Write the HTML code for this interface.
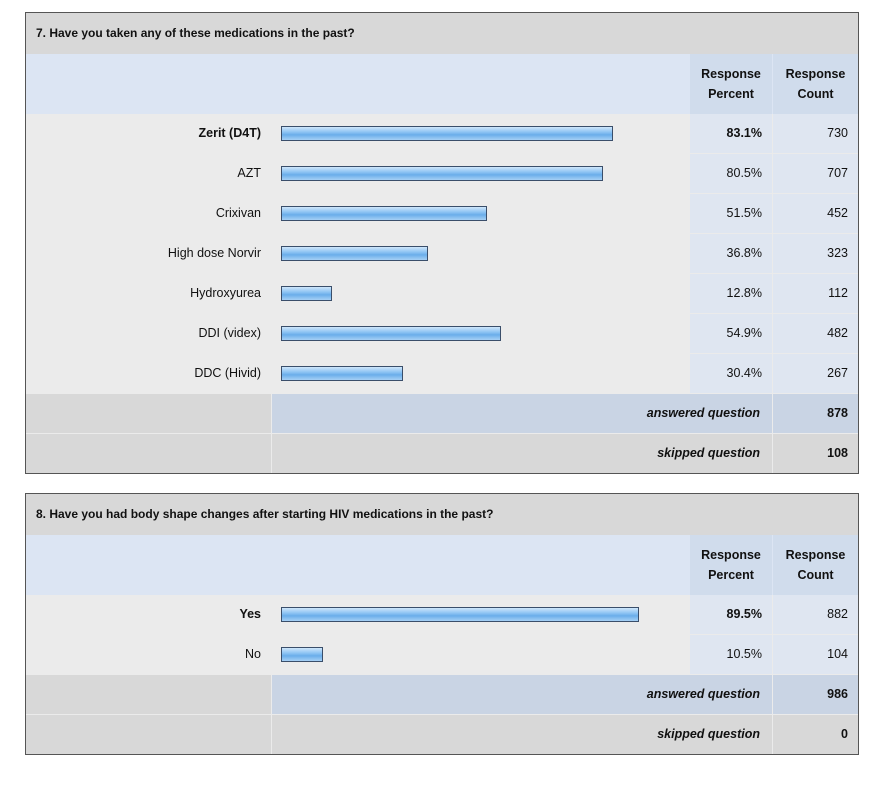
<!DOCTYPE html>
<html><head><meta charset="utf-8">
<style>
body{margin:0;width:881px;height:786px;background:#fff;font-family:"Liberation Sans",sans-serif;position:relative;overflow:hidden}
.box{position:absolute;left:25px;width:832px;border:1px solid #555;background:#ebebeb}
.c{position:absolute;box-sizing:border-box;font-size:12.5px;color:#111}
.bar{position:absolute;height:15px;box-sizing:border-box;border:1px solid #3a4e6a;background:linear-gradient(#cfe6fb 0%,#8cc3f3 40%,#6aaeea 60%,#a6d0f5 100%)}
</style></head><body>
<script>
const q1Title="7. Have you taken any of these medications in the past?";
const q1Labels=["Zerit (D4T)","AZT","Crixivan","High dose Norvir","Hydroxyurea","DDI (videx)","DDC (Hivid)"];
const q1Percents=[83.1,80.5,51.5,36.8,12.8,54.9,30.4];
const q1Counts=[730,707,452,323,112,482,267];
const q1Answered=878, q1Skipped=108;
const q2Title="8. Have you had body shape changes after starting HIV medications in the past?";
const q2Labels=["Yes","No"];
const q2Percents=[89.5,10.5];
const q2Counts=[882,104];
const q2Answered=986, q2Skipped=0;

function xScale(p){return p*4.0;}
function cell(box,x,y,w,h,bg,txt,align,style,name){
  const d=document.createElement('div');d.className='c';
  
  
  d.style.cssText=`left:${x}px;top:${y}px;width:${w}px;height:${h}px;line-height:${h}px;background:${bg};text-align:${align};${style||''}`;
  d.textContent=txt||'';box.appendChild(d);return d;
}
function table(top,title,labels,percents,counts,answered,skipped,prefix){
  const rows=labels.length,H=40;
  const total=41+60+rows*H+H*2-1;
  const box=document.createElement('div');box.className='box';
  
  
  box.style.top=top+'px';box.style.height=total+'px';
  document.body.appendChild(box);
  cell(box,0,0,832,41,'#d8d8d8',title,'left','padding-left:10px;font-weight:bold;font-size:12px',prefix+'-title');
  cell(box,0,41,832,60,'#dce5f3','','left','',prefix+'-header-row');
  const hp=cell(box,664,41,82,60,'#d0dcec','','center','line-height:20px;padding-top:10px;font-weight:bold',prefix+'-percent-header');hp.innerHTML='Response<br>Percent';
  const hc=cell(box,747,41,85,60,'#d0dcec','','center','line-height:20px;padding-top:10px;font-weight:bold',prefix+'-count-header');hc.innerHTML='Response<br>Count';
  const maxP=Math.max(...percents);
  for(let i=0;i<rows;i++){
    const y=101+i*H;const b=percents[i]===maxP?'font-weight:bold;':'';
    cell(box,0,y,245,H-1,'#ebebeb',labels[i],'right','padding-right:10px;'+b,prefix+'-label-'+i);
    cell(box,246,y,417,H-1,'#ebebeb','','left','',prefix+'-bar-cell-'+i);
    cell(box,664,y,82,H-1,'#dfe6f1',percents[i].toFixed(1)+'%','right','padding-right:10px;'+b,prefix+'-percent-'+i);
    cell(box,747,y,85,H-1,'#dfe6f1',String(counts[i]),'right','padding-right:10px',prefix+'-count-'+i);
    const bar=document.createElement('div');bar.className='bar';
    
    
    bar.style.left='255px';bar.style.top=(y+12)+'px';bar.style.width=xScale(percents[i])+'px';
    box.appendChild(bar);
  }
  const ya=101+rows*H;
  cell(box,0,ya,245,H-1,'#d8d8d8','','left','',prefix+'-answered-blank');
  cell(box,246,ya,500,H-1,'#c9d4e4','answered question','right','padding-right:12px;font-weight:bold;font-style:italic',prefix+'-answered-label');
  cell(box,747,ya,85,H-1,'#c9d4e4',String(answered),'right','padding-right:10px;font-weight:bold',prefix+'-answered-count');
  const ys=ya+H;
  cell(box,0,ys,245,H-1,'#d8d8d8','','left','',prefix+'-skipped-blank');
  cell(box,246,ys,500,H-1,'#d8d8d8','skipped question','right','padding-right:12px;font-weight:bold;font-style:italic',prefix+'-skipped-label');
  cell(box,747,ys,85,H-1,'#d8d8d8',String(skipped),'right','padding-right:10px;font-weight:bold',prefix+'-skipped-count');
}
table(12,q1Title,q1Labels,q1Percents,q1Counts,q1Answered,q1Skipped,'q7');
table(493,q2Title,q2Labels,q2Percents,q2Counts,q2Answered,q2Skipped,'q8');
</script>
</body></html>
